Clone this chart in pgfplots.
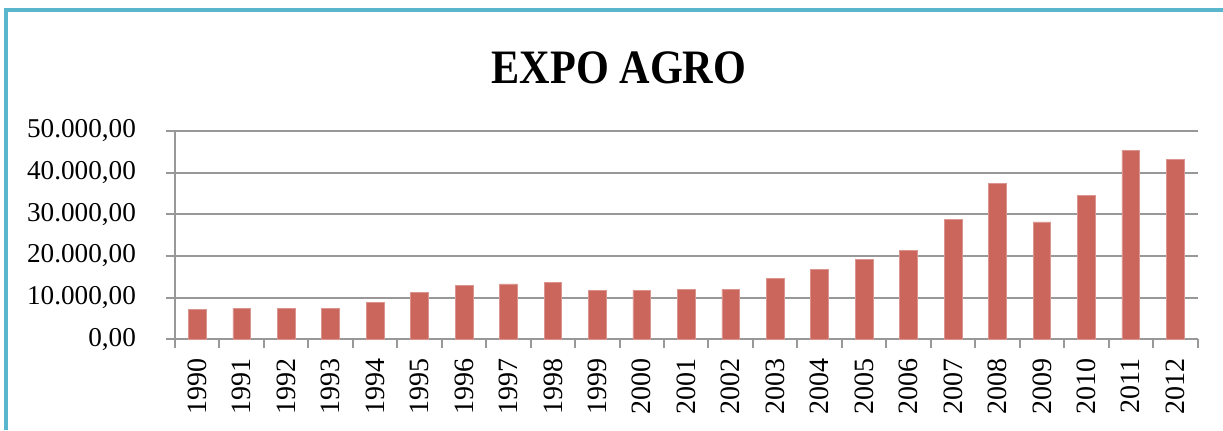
\documentclass[border=0pt]{standalone}
\usepackage{pgfplots}
\pgfplotsset{compat=1.18}
\usepackage{graphicx}
\usepackage{fontspec}
\setmainfont{Liberation Serif}

\definecolor{barred}{RGB}{203,102,93}
\definecolor{gridgray}{RGB}{152,152,152}
\definecolor{framecyan}{RGB}{90,182,204}

\begin{document}
\begin{tikzpicture}
  \path[use as bounding box] (0,0) rectangle (611.5pt,215pt);
  % frame
  \draw[framecyan, line width=2pt] (3pt,0) -- (3pt,210pt) -- (611.5pt,210pt);
  % title
  \node at (309.5pt,181.25pt) {\scalebox{0.88}[1]{\fontsize{24}{28}\selectfont\bfseries EXPO AGRO}};
  \begin{axis}[
      at={(87.5pt,45.35pt)}, anchor=south west,
      scale only axis,
      width=511.25pt, height=104.15pt,
      xmin=-0.5, xmax=22.5,
      ymin=0, ymax=50000,
      ytick={0,10000,...,50000},
      scaled y ticks=false,
      yticklabel shift=11.5pt,
      yticklabel style={/pgf/number format/.cd, fixed, fixed zerofill, precision=2,
        use comma, 1000 sep={.}, assume math mode=true},
      xtick={-0.5,0.5,...,22.5},
      xticklabels={},
      extra x ticks={0,...,22},
      extra x tick labels={1990,1991,1992,1993,1994,1995,1996,1997,1998,1999,2000,
        2001,2002,2003,2004,2005,2006,2007,2008,2009,2010,2011,2012},
      extra x tick style={major tick length=0pt, grid=none, xticklabel shift=6pt,
        xticklabel style={rotate=90, anchor=east, font=\fontsize{14}{16}\selectfont}},
      axis x line*=bottom,
      axis y line*=left,
      axis line style={gridgray, line width=1pt, -},
      tick style={gridgray, line width=1pt},
      tick align=outside,
      major tick length=4.5pt,
      ymajorgrids,
      grid style={gridgray, line width=1pt},
      tick label style={font=\fontsize{13.6}{16}\selectfont},
      ybar, bar width=8.85pt,
    ]
    \addplot[fill=barred, draw=barred!70!white, line width=0.3pt] coordinates {
      (0,7200)(1,7500)(2,7500)(3,7500)(4,8800)(5,11200)(6,13000)(7,13300)
      (8,13700)(9,11700)(10,11700)(11,12000)(12,12000)(13,14700)(14,16800)
      (15,19100)(16,21400)(17,28800)(18,37400)(19,28200)(20,34600)(21,45400)
      (22,43200)
    };
  \end{axis}
\end{tikzpicture}
\end{document}
